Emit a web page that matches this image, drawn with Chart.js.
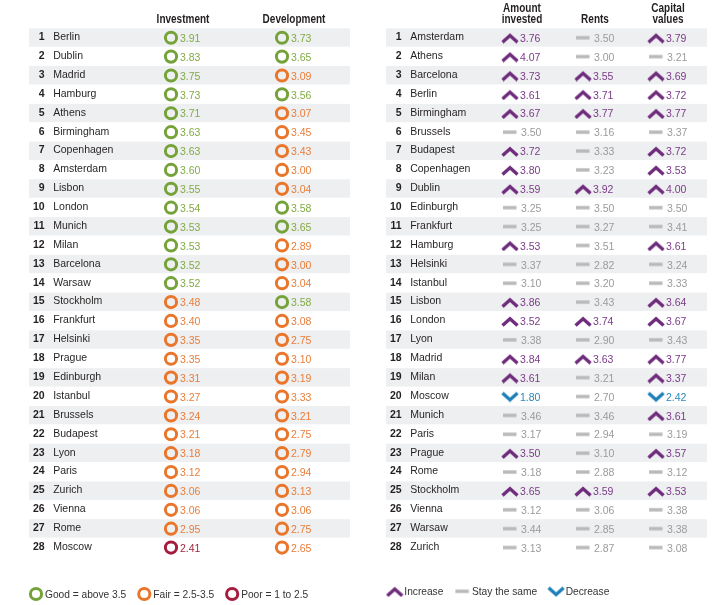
<!DOCTYPE html>
<html lang="en">
<head>
<meta charset="UTF-8" />
<title>European cities - prospects and market indicators</title>
<script src="https://cdn.jsdelivr.net/npm/chart.js"></script>
<style>
  html, body { margin: 0; padding: 0; background: #fff; }
  #wrap { position: relative; width: 721px; height: 605px; }
  #leftTable { position: absolute; left: 0; top: 0; }
  #rightTable { position: absolute; left: 360px; top: 0; }
</style>
</head>
<body>
<div id="wrap">
  <canvas id="leftTable" width="360" height="605"></canvas>
  <canvas id="rightTable" width="361" height="605"></canvas>
</div>
<script>
// --- left table: investment / development prospects
const leftCities = ["Berlin", "Dublin", "Madrid", "Hamburg", "Athens", "Birmingham", "Copenhagen",
  "Amsterdam", "Lisbon", "London", "Munich", "Milan", "Barcelona", "Warsaw", "Stockholm",
  "Frankfurt", "Helsinki", "Prague", "Edinburgh", "Istanbul", "Brussels", "Budapest", "Lyon",
  "Paris", "Zurich", "Vienna", "Rome", "Moscow"];
const investment = [3.91, 3.83, 3.75, 3.73, 3.71, 3.63, 3.63, 3.60, 3.55, 3.54, 3.53, 3.53, 3.52, 3.52,
  3.48, 3.40, 3.35, 3.35, 3.31, 3.27, 3.24, 3.21, 3.18, 3.12, 3.06, 3.06, 2.95, 2.41];
const development = [3.73, 3.65, 3.09, 3.56, 3.07, 3.45, 3.43, 3.00, 3.04, 3.58, 3.65, 2.89, 3.00, 3.04,
  3.58, 3.08, 2.75, 3.10, 3.19, 3.33, 3.21, 2.75, 2.79, 2.94, 3.13, 3.06, 2.75, 2.65];
const leftHeaders = [["Investment"], ["Development"]];

// --- right table: amount invested / rents / capital values
const rightCities = ["Amsterdam", "Athens", "Barcelona", "Berlin", "Birmingham", "Brussels", "Budapest",
  "Copenhagen", "Dublin", "Edinburgh", "Frankfurt", "Hamburg", "Helsinki", "Istanbul", "Lisbon",
  "London", "Lyon", "Madrid", "Milan", "Moscow", "Munich", "Paris", "Prague", "Rome", "Stockholm",
  "Vienna", "Warsaw", "Zurich"];
const amountInvested = [3.76, 4.07, 3.73, 3.61, 3.67, 3.50, 3.72, 3.80, 3.59, 3.25, 3.25, 3.53, 3.37, 3.10,
  3.86, 3.52, 3.38, 3.84, 3.61, 1.80, 3.46, 3.17, 3.50, 3.18, 3.65, 3.12, 3.44, 3.13];
const rents = [3.50, 3.00, 3.55, 3.71, 3.77, 3.16, 3.33, 3.23, 3.92, 3.50, 3.27, 3.51, 2.82, 3.20,
  3.43, 3.74, 2.90, 3.63, 3.21, 2.70, 3.46, 2.94, 3.10, 2.88, 3.59, 3.06, 2.85, 2.87];
const capitalValues = [3.79, 3.21, 3.69, 3.72, 3.77, 3.37, 3.72, 3.53, 4.00, 3.50, 3.41, 3.61, 3.24, 3.33,
  3.64, 3.67, 3.43, 3.77, 3.37, 2.42, 3.61, 3.19, 3.57, 3.12, 3.53, 3.38, 3.38, 3.08];
const investedTrend = ["up", "up", "up", "up", "up", "same", "up", "up", "up", "same", "same", "up", "same", "same",
  "up", "up", "same", "up", "up", "down", "same", "same", "up", "same", "up", "same", "same", "same"];
const rentsTrend = ["same", "same", "up", "up", "up", "same", "same", "same", "up", "same", "same", "same", "same", "same",
  "same", "up", "same", "up", "same", "same", "same", "same", "same", "same", "up", "same", "same", "same"];
const capitalTrend = ["up", "same", "up", "up", "up", "same", "up", "up", "up", "same", "same", "up", "same", "same",
  "up", "up", "same", "up", "up", "down", "up", "same", "up", "same", "up", "same", "same", "same"];
const rightHeaders = [["Amount", "invested"], ["Rents"], ["Capital", "values"]];

const FONT = '"Liberation Sans", Arial, sans-serif';

// small canvases used as point styles for the trend marks
function markCanvas(kind, color) {
  const c = document.createElement("canvas");
  c.width = 18; c.height = 12;
  const g = c.getContext("2d");
  g.strokeStyle = color;
  g.lineWidth = 3.4;
  g.lineJoin = "miter";
  g.beginPath();
  if (kind === "up") { g.moveTo(1.5, 10.5); g.lineTo(9, 3.8); g.lineTo(16.5, 10.5); }
  else if (kind === "down") { g.moveTo(1.5, 2.5); g.lineTo(9, 9.2); g.lineTo(16.5, 2.5); }
  else { g.moveTo(2, 6); g.lineTo(15.5, 6); }
  g.stroke();
  return c;
}

function drawMark(ctx, ds, x, y) {
  if (ds.pointStyle instanceof HTMLCanvasElement) {
    ctx.drawImage(ds.pointStyle, x - ds.pointStyle.width / 2, y - ds.pointStyle.height / 2);
  } else {
    ctx.beginPath();
    ctx.arc(x, y, ds.pointRadius, 0, Math.PI * 2);
    ctx.lineWidth = ds.borderWidth;
    ctx.strokeStyle = ds.borderColor;
    ctx.stroke();
  }
}

// stripes, ranks, names, headers, value labels and legend
const tablePlugin = {
  id: "table",
  beforeDatasetsDraw(chart, args, opts) {
    const { ctx, chartArea: a, scales: { x, y } } = chart;
    const band = a.height / opts.names.length;
    ctx.save();
    ctx.fillStyle = "#eeeff1";
    opts.names.forEach((n, i) => {
      if (i % 2 === 0) ctx.fillRect(a.left, y.getPixelForValue(i) - band / 2, a.width, band - 0.5);
    });
    ctx.fillStyle = "#231f20";
    opts.names.forEach((n, i) => {
      const yy = y.getPixelForValue(i) + 2.4;
      ctx.font = "bold 10.5px " + FONT;
      ctx.textAlign = "right";
      ctx.fillText(String(i + 1), a.left + 15.6, yy);
      ctx.font = "10.5px " + FONT;
      ctx.textAlign = "left";
      ctx.fillText(n, a.left + 24.2, yy);
    });
    // condensed bold headers: squeeze a normal bold face horizontally
    ctx.font = "bold 12.5px " + FONT;
    ctx.textAlign = "center";
    opts.headers.forEach((lines, ci) => {
      const xx = x.getPixelForValue(ci) + 12;
      lines.forEach((t, k) => {
        ctx.save();
        ctx.translate(xx, 23 - (lines.length - 1 - k) * 11.5);
        ctx.scale(0.8, 1);
        ctx.fillText(t, 0, 0);
        ctx.restore();
      });
    });
    ctx.restore();
  },
  afterDatasetsDraw(chart, args, opts) {
    const ctx = chart.ctx;
    ctx.save();
    ctx.font = "10.5px " + FONT;
    ctx.textAlign = "left";
    chart.data.datasets.forEach((ds, di) => {
      ctx.fillStyle = ds.textColor;
      chart.getDatasetMeta(di).data.forEach((el, j) => {
        ctx.fillText(ds.data[j].v.toFixed(2), el.x + ds.labelGap, el.y + 4.2);
      });
    });
    // legend
    let lx = opts.legendX;
    ctx.font = "10.2px " + FONT;
    ctx.fillStyle = "#333333";
    chart.data.datasets.forEach((ds) => {
      drawMark(ctx, ds, lx + opts.markW / 2, opts.legendY);
      ctx.fillText(ds.label, lx + opts.textOff, opts.legendY + 3.8);
      lx += opts.textOff + ctx.measureText(ds.label).width + 11;
    });
    ctx.restore();
  }
};

// --- left chart
const GOOD = "#76a23a", FAIR = "#e9762b", POOR = "#a51c3d";
const leftCols = [investment, development];
function ratingPoints(test) {
  const pts = [];
  leftCols.forEach((vals, ci) => vals.forEach((v, i) => {
    if (test(v)) pts.push({ x: ci, y: leftCities[i], v: v });
  }));
  return pts;
}
function circleSet(label, color, text, test) {
  return {
    label: label, data: ratingPoints(test), pointStyle: "circle", pointRadius: 5.6,
    borderWidth: 3, borderColor: color, backgroundColor: "rgba(0,0,0,0)",
    textColor: text, labelGap: 9
  };
}

new Chart(document.getElementById("leftTable"), {
  type: "scatter",
  data: {
    datasets: [
      circleSet("Good = above 3.5", GOOD, "#82ab45", v => v > 3.5),
      circleSet("Fair = 2.5-3.5", FAIR, "#e97d39", v => v <= 3.5 && v >= 2.5),
      circleSet("Poor = 1 to 2.5", POOR, "#a8243f", v => v < 2.5)
    ]
  },
  options: {
    responsive: false,
    animation: false,
    events: [],
    layout: { padding: { left: 29, right: 10, top: 28.3, bottom: 48 } },
    scales: {
      x: { type: "linear", min: -1.2793, max: 1.6126, display: false },
      y: { type: "category", labels: leftCities, offset: true, display: false }
    },
    plugins: {
      legend: { display: false },
      tooltip: { enabled: false },
      table: { names: leftCities, headers: leftHeaders, legendX: 29, legendY: 594, markW: 14, textOff: 16 }
    }
  },
  plugins: [tablePlugin]
});

// --- right chart
const rightCols = [[amountInvested, investedTrend], [rents, rentsTrend], [capitalValues, capitalTrend]];
function trendPoints(kind) {
  const pts = [];
  rightCols.forEach(([vals, trend], ci) => vals.forEach((v, i) => {
    if (trend[i] === kind) pts.push({ x: ci, y: rightCities[i], v: v });
  }));
  return pts;
}
function trendSet(label, kind, color, text, gap) {
  return {
    label: label, data: trendPoints(kind), pointStyle: markCanvas(kind, color),
    pointRadius: 8, textColor: text, labelGap: gap
  };
}

new Chart(document.getElementById("rightTable"), {
  type: "scatter",
  data: {
    datasets: [
      trendSet("Increase", "up", "#6f2c7c", "#7a3a87", 10),
      trendSet("Stay the same", "same", "#b9b9b9", "#9b9b9b", 11),
      trendSet("Decrease", "down", "#1f80b9", "#2a86bf", 10)
    ]
  },
  options: {
    responsive: false,
    animation: false,
    events: [],
    layout: { padding: { left: 26, right: 14, top: 28.3, bottom: 48 } },
    scales: {
      x: { type: "linear", min: -1.6986, max: 2.6986, display: false },
      y: { type: "category", labels: rightCities, offset: true, display: false }
    },
    plugins: {
      legend: { display: false },
      tooltip: { enabled: false },
      table: { names: rightCities, headers: rightHeaders, legendX: 26.7, legendY: 591.3, markW: 16, textOff: 17.6 }
    }
  },
  plugins: [tablePlugin]
});
</script>
</body>
</html>
